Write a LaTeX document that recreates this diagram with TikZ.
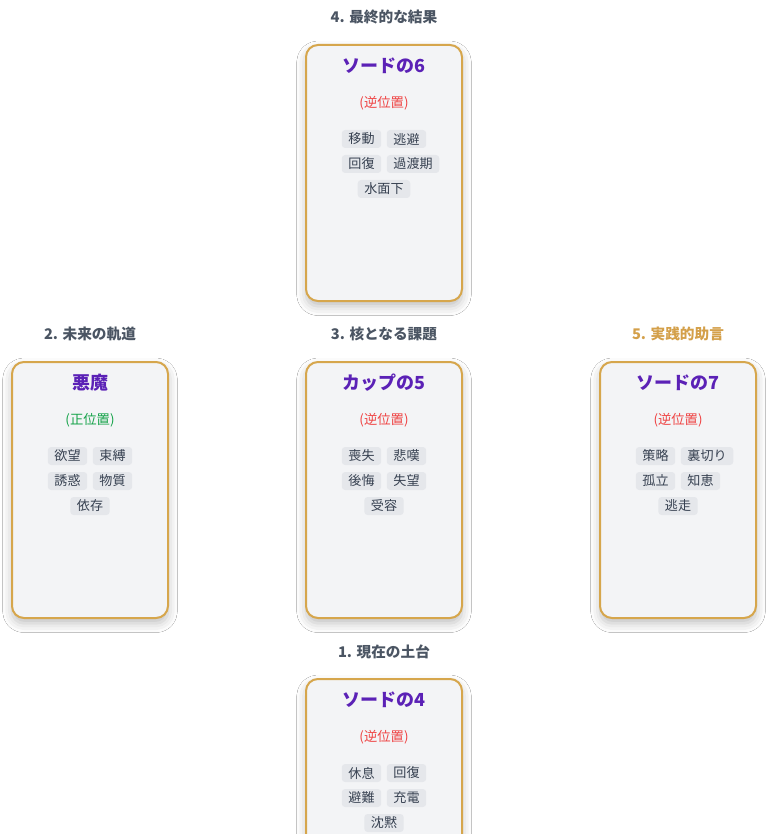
\documentclass[tikz,border=0pt]{standalone}
\usepackage{fontspec}
\setmainfont{Noto Sans CJK JP}
\usetikzlibrary{shadows.blur}
\definecolor{bord}{HTML}{D6A64C}
\definecolor{cardbg}{HTML}{F3F4F6}
\definecolor{ttl}{HTML}{5B21B6}
\definecolor{rev}{HTML}{EF4444}
\definecolor{upr}{HTML}{16A34A}
\definecolor{tagbg}{HTML}{E5E7EB}
\definecolor{tagtx}{HTML}{374151}
\definecolor{hdr}{HTML}{4B5563}
\definecolor{adv}{HTML}{D4A04A}
\tikzset{
 cardbox/.style={draw=bord,line width=1.5pt,fill=cardbg,rounded corners=9pt,minimum width=117pt,minimum height=192pt,anchor=north,inner sep=0pt,blur shadow={shadow xshift=0pt,shadow yshift=-4pt,shadow blur radius=7pt,shadow opacity=25}},
 cardtitle/.style={font=\bfseries\fontsize{13.5}{15}\selectfont,text=ttl},
 postxt/.style={font=\fontsize{10}{12}\selectfont},
 hdrtxt/.style={font=\bfseries\fontsize{11}{13}\selectfont,text=hdr},
 tagbox/.style={fill=tagbg,rounded corners=2.5pt,text=tagtx,font=\fontsize{9.8}{11}\selectfont,inner xsep=5pt,inner ysep=2.2pt,minimum height=13.5pt},
}
\newcommand{\card}[6]{%
 \node[cardbox] (#1) at (#2,#3) {};
 \node[cardtitle] (#1t) at (#2,#3+22) {#4};
 \node[postxt,text=#6] (#1p) at (#2,#3+59) {#5};
}
\newcommand{\tagpair}[5]{%
 \node[tagbox,anchor=east] (#1a) at (#2-2.5,#3) {#4};
 \node[tagbox,anchor=west] (#1b) at (#2+2.5,#3) {#5};
}
\newcommand{\tagone}[4]{\node[tagbox] (#1) at (#2,#3) {#4};}
\begin{document}
\begin{tikzpicture}[x=0.75pt,y=-0.75pt]
\useasboundingbox (0,0) rectangle (767,834);
\clip (0,0) rectangle (767,834);
\fill[white] (0,0) rectangle (767,834);
% 4 top
\node[hdrtxt] (h4) at (384,17) {4. 最終的な結果};
\card{c4}{384}{44}{ソードの6}{(逆位置)}{rev}
\tagpair{c4r1}{384}{139}{移動}{逃避}
\tagpair{c4r2}{384}{164}{回復}{過渡期}
\tagone{c4r3}{384}{189}{水面下}
% 2 left
\node[hdrtxt] (h2) at (90,334) {2. 未来の軌道};
\card{c2}{90}{361}{悪魔}{(正位置)}{upr}
\tagpair{c2r1}{90}{456}{欲望}{束縛}
\tagpair{c2r2}{90}{481}{誘惑}{物質}
\tagone{c2r3}{90}{506}{依存}
% 3 center
\node[hdrtxt] (h3) at (384,334) {3. 核となる課題};
\card{c3}{384}{361}{カップの5}{(逆位置)}{rev}
\tagpair{c3r1}{384}{456}{喪失}{悲嘆}
\tagpair{c3r2}{384}{481}{後悔}{失望}
\tagone{c3r3}{384}{506}{受容}
% 5 right
\node[hdrtxt,text=adv] (h5) at (678,334) {5. 実践的助言};
\card{c5}{678}{361}{ソードの7}{(逆位置)}{rev}
\tagpair{c5r1}{678}{456}{策略}{裏切り}
\tagpair{c5r2}{678}{481}{孤立}{知恵}
\tagone{c5r3}{678}{506}{逃走}
% 1 bottom
\node[hdrtxt] (h1) at (384,652) {1. 現在の土台};
\card{c1}{384}{678}{ソードの4}{(逆位置)}{rev}
\tagpair{c1r1}{384}{773}{休息}{回復}
\tagpair{c1r2}{384}{798}{避難}{充電}
\tagone{c1r3}{384}{823}{沈黙}
\end{tikzpicture}
\end{document}
